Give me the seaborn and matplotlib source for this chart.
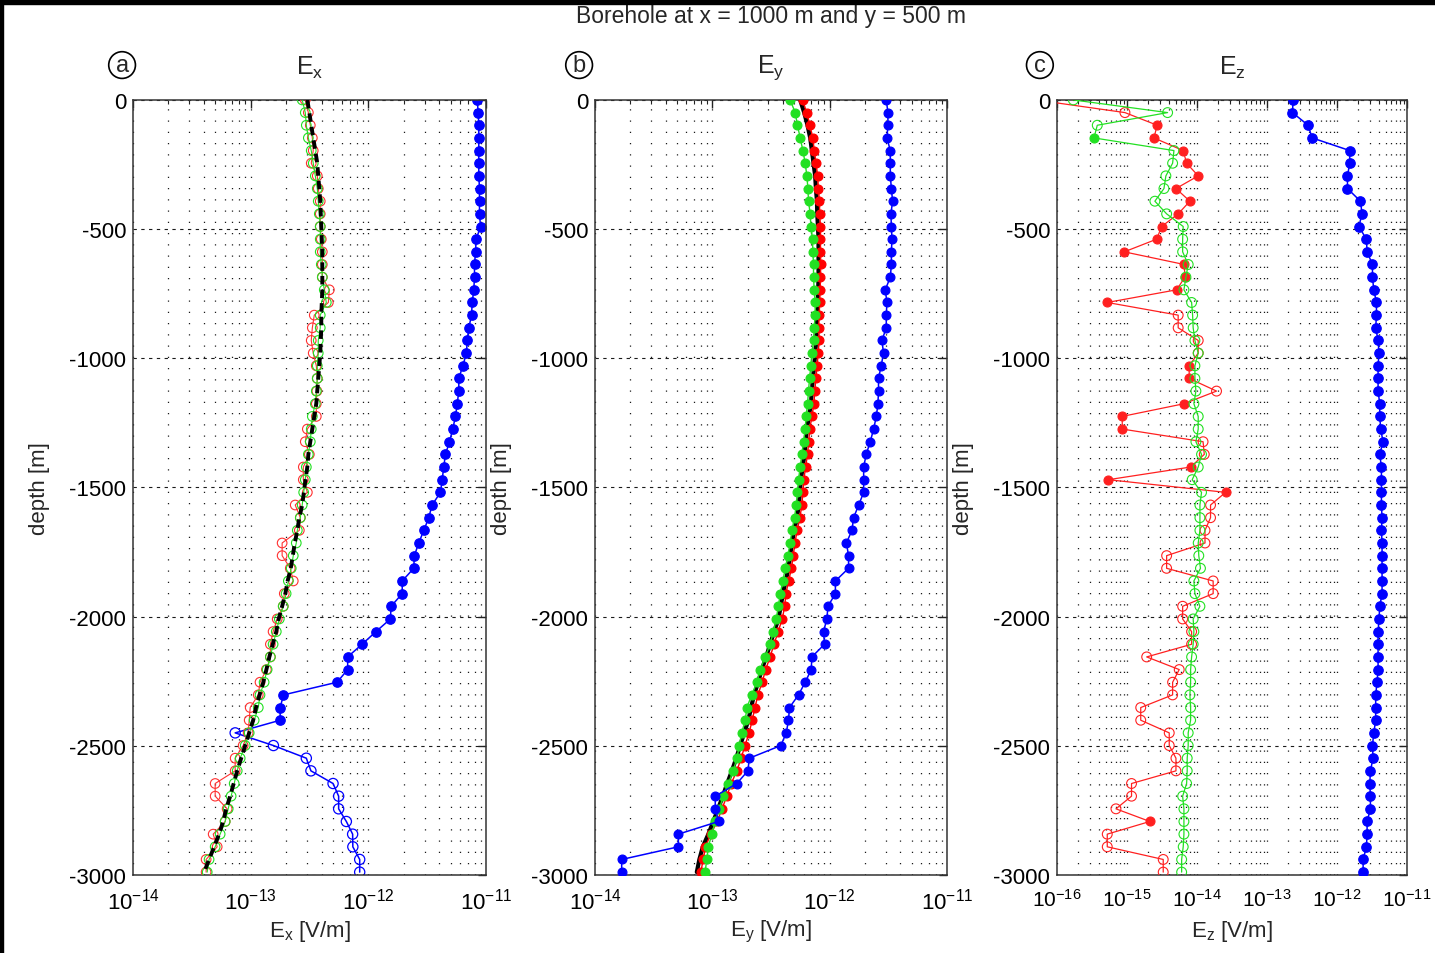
import numpy as np
import matplotlib
matplotlib.use("Agg")
import matplotlib.pyplot as plt
import seaborn as sns
from matplotlib.patches import Rectangle
from matplotlib.ticker import FixedLocator, LogLocator, NullFormatter

# borehole samples (62 points, ~49 m apart)
N_SAMPLES = 62
DEPTH_STEP = 49.0
depth = -DEPTH_STEP * np.arange(N_SAMPLES)

y_ticks = [0, -500, -1000, -1500, -2000, -2500, -3000]

# sign convention: positive -> filled marker, negative -> open marker (|E| is plotted)
ex_black = np.array([
    3.03, 3.15, 3.27, 3.40, 3.54, 3.68, 3.75, 3.83, 3.90, 3.94,
    3.98, 4.02, 4.06, 4.06, 4.06, 4.06, 4.02, 3.98, 3.98, 3.94,
    3.90, 3.83, 3.75, 3.68, 3.61, 3.47, 3.34, 3.21, 3.09, 3.03,
    2.92, 2.83, 2.74, 2.59, 2.49, 2.37, 2.28, 2.19, 2.06, 1.97,
    1.85, 1.73, 1.65, 1.54, 1.44, 1.36, 1.28, 1.19, 1.11, 1.05,
    0.971, 0.898, 0.830, 0.768, 0.717, 0.669, 0.619, 0.583, 0.539, 0.489,
    0.443, 0.402]) * 1e-13
ex_green = -np.array([
    2.74, 2.91, 2.97, 3.09, 3.27, 3.40, 3.54, 3.68, 3.75, 3.83,
    3.90, 3.90, 3.90, 3.98, 4.06, 4.22, 4.39, 3.90, 3.90, 3.75,
    3.75, 3.68, 3.68, 3.61, 3.54, 3.34, 3.27, 3.21, 3.09, 2.97,
    2.91, 2.82, 2.74, 2.64, 2.49, 2.44, 2.30, 2.21, 2.09, 2.00,
    1.89, 1.75, 1.65, 1.55, 1.47, 1.38, 1.30, 1.20, 1.16, 1.07,
    0.971, 0.898, 0.814, 0.768, 0.724, 0.682, 0.644, 0.607, 0.550, 0.499,
    0.443, 0.427]) * 1e-13
ex_red = -np.array([
    2.91, 3.09, 3.21, 3.34, 3.40, 3.27, 3.68, 3.75, 3.90, 3.90,
    3.90, 3.98, 4.06, 4.06, 4.06, 4.66, 4.57, 3.47, 3.34, 3.27,
    3.40, 3.61, 3.68, 3.65, 3.61, 3.61, 3.03, 2.91, 3.15, 2.80,
    2.80, 3.03, 2.39, 2.64, 2.59, 1.85, 1.85, 2.17, 2.30, 1.93,
    1.89, 1.68, 1.55, 1.47, 1.47, 1.36, 1.20, 1.16, 0.990, 0.971,
    0.952, 0.863, 0.738, 0.738, 0.499, 0.499, 0.631, 0.607, 0.480, 0.519,
    0.418, 0.418]) * 1e-13
ex_blue = np.array([
    8.41, 8.58, 8.68, 8.68, 8.68, 8.68, 8.68, 8.80, 8.80, 8.80,
    8.98, 8.25, 8.14, 7.98, 7.98, 7.87, 7.63, 7.53, 7.14, 6.92,
    6.82, 6.35, 5.87, 5.87, 5.69, 5.50, 5.21, 4.89, 4.52, 4.37,
    4.24, 4.10, 3.48, 3.26, 2.96, 2.68, 2.46, 2.43, 1.94, 1.94,
    1.56, 1.54, 1.16, 0.884, 0.667, 0.667, 0.542, 0.190, 0.178, 0.178,
    -0.0738, -0.156, -0.297, -0.325, -0.501, -0.559, -0.559, -0.650, -0.735, -0.738,
    -0.844, -0.844]) * 1e-12

ey_black = np.array([
    5.61, 6.07, 6.48, 6.83, 7.06, 7.29, 7.53, 7.64, 7.80, 7.84,
    7.95, 8.04, 8.04, 8.04, 8.04, 7.99, 7.91, 7.84, 7.76, 7.69,
    7.53, 7.39, 7.20, 7.06, 6.92, 6.66, 6.40, 6.25, 6.11, 5.89,
    5.69, 5.58, 5.47, 5.26, 4.99, 4.77, 4.61, 4.46, 4.22, 4.00,
    3.83, 3.66, 3.37, 3.11, 2.88, 2.64, 2.46, 2.27, 2.14, 2.03,
    1.87, 1.73, 1.60, 1.47, 1.34, 1.23, 1.12, 1.02, 0.926, 0.830,
    0.776, 0.738]) * 1e-13
ey_red = np.array([
    5.89, 6.37, 6.80, 7.17, 7.41, 7.65, 7.91, 8.02, 8.19, 8.23,
    8.35, 8.36, 8.36, 8.40, 8.36, 8.31, 8.23, 8.15, 8.07, 8.15,
    7.98, 7.83, 7.63, 7.48, 7.34, 7.06, 6.78, 6.63, 6.48, 6.24,
    6.03, 5.92, 5.80, 5.58, 5.29, 5.06, 4.89, 4.73, 4.47, 4.24,
    4.14, 3.95, 3.64, 3.36, 3.11, 2.85, 2.66, 2.45, 2.31, 2.19,
    2.06, 1.90, 1.76, 1.62, 1.45, 1.33, 1.21, 1.10, 0.972, 0.872,
    0.838, 0.797]) * 1e-13
ey_green = np.array([
    4.61, 5.09, 5.32, 5.61, 5.92, 6.19, 6.40, 6.53, 6.61, 6.83,
    6.92, 7.15, 7.20, 7.29, 7.29, 7.39, 7.53, 7.53, 7.39, 7.29,
    7.06, 6.92, 6.74, 6.61, 6.48, 6.31, 6.19, 5.99, 5.80, 5.61,
    5.43, 5.31, 5.19, 5.02, 4.77, 4.61, 4.41, 4.18, 4.00, 3.79,
    3.66, 3.50, 3.32, 3.11, 2.82, 2.56, 2.40, 2.17, 1.97, 1.91,
    1.78, 1.70, 1.62, 1.51, 1.37, 1.24, 1.15, 1.06, 0.990, 0.926,
    0.898, 0.868]) * 1e-13
ey_blue = np.array([
    3.04, 3.14, 3.14, 3.08, 3.29, 3.29, 3.29, 3.36, 3.44, 3.33,
    3.36, 3.40, 3.36, 3.36, 3.29, 2.98, 3.08, 3.04, 3.04, 2.79,
    2.88, 2.75, 2.61, 2.61, 2.58, 2.50, 2.37, 2.22, 2.05, 1.95,
    1.95, 1.95, 1.77, 1.60, 1.55, 1.39, 1.45, 1.45, 1.12, 1.12,
    0.967, 0.948, 0.887, 0.905, 0.706, 0.697, 0.619, 0.543, 0.455, 0.446,
    0.427, 0.384, 0.207, 0.201, 0.162, 0.106, 0.106, 0.113, 0.0514, 0.0514,
    0.0169, 0.0169]) * 1e-12

ez_red = np.array([
    -5.0e-17, -9.34e-16, 2.70e-15, 2.42e-15, 6.35e-15, 7.10e-15, 1.04e-14, 5.00e-15, 7.91e-15, 5.38e-15,
    3.12e-15, 2.65e-15, 9.13e-16, 6.56e-15, 6.71e-15, 5.11e-15, 5.22e-16, -5.38e-15, -5.38e-15, -1.04e-14,
    -1.04e-14, 7.73e-15, 7.73e-15, -1.90e-14, 6.50e-15, 8.55e-16, 8.55e-16, -1.22e-14, -1.27e-14, 8.10e-15,
    5.40e-16, 2.56e-14, -1.56e-14, -1.56e-14, -1.30e-14, -1.30e-14, -3.68e-15, -3.68e-15, -1.70e-14, -1.70e-14,
    -6.23e-15, -6.23e-15, -8.37e-15, -8.37e-15, -1.91e-15, -5.57e-15, -4.48e-15, -4.48e-15, -1.57e-15, -1.57e-15,
    -4.01e-15, -4.01e-15, -5.00e-15, -5.00e-15, -1.16e-15, -1.16e-15, -6.95e-16, 2.12e-15, -5.22e-16, -5.22e-16,
    -3.29e-15, -3.29e-15])
ez_green = np.array([
    -1.71e-16, -3.80e-15, -3.76e-16, 3.37e-16, -4.68e-15, -4.48e-15, -3.59e-15, -3.37e-15, -2.50e-15, -3.68e-15,
    -6.35e-15, -6.23e-15, -6.23e-15, -7.48e-15, -6.94e-15, -6.50e-15, -8.37e-15, -8.65e-15, -8.81e-15, -9.33e-15,
    -1.04e-14, -9.33e-15, -9.33e-15, -9.64e-15, -9.02e-15, -1.04e-14, -1.04e-14, -9.64e-15, -1.16e-14, -1.04e-14,
    -8.53e-15, -1.16e-14, -1.10e-14, -1.10e-14, -1.10e-14, -1.04e-14, -1.06e-14, -1.12e-14, -9.02e-15, -9.33e-15,
    -1.10e-14, -8.81e-15, -9.02e-15, -8.81e-15, -8.37e-15, -8.10e-15, -8.10e-15, -7.91e-15, -8.10e-15, -8.10e-15,
    -7.48e-15, -7.48e-15, -7.24e-15, -7.24e-15, -7.10e-15, -6.23e-15, -6.50e-15, -6.50e-15, -6.50e-15, -6.35e-15,
    -6.03e-15, -6.03e-15])
ez_blue = np.array([
    0.236, 0.231, 0.386, 0.441, 1.52, 1.52, 1.41, 1.41, 2.16, 2.28,
    2.05, 2.63, 2.69, 3.21, 3.21, 3.35, 3.66, 3.66, 3.57, 3.86,
    3.98, 3.86, 3.86, 3.86, 4.08, 4.08, 4.21, 4.54, 4.08, 4.31,
    4.31, 4.31, 4.31, 4.40, 4.31, 4.40, 4.40, 4.40, 4.40, 4.40,
    4.08, 3.98, 3.86, 3.86, 3.86, 3.86, 3.73, 3.57, 3.57, 3.57,
    3.35, 3.21, 3.27, 3.00, 2.94, 3.00, 3.00, 2.69, 2.69, 2.63,
    2.36, 2.36]) * 1e-12

RED = "#ff0000"
GREEN = "#22e022"
BLUE = "#0000ff"


def draw_curve(ax, values, color, lw=0.9, ls="-", size=40, edge_lw=0.9, markers=True, z=2):
    vals = np.asarray(values, dtype=float)
    mag = np.abs(vals)
    sns.lineplot(x=mag, y=depth, ax=ax, color=color, linewidth=lw, linestyle=ls,
                 sort=False, estimator=None, orient="y", zorder=z)
    if not markers:
        return
    solid = vals > 0
    if solid.any():
        sns.scatterplot(x=mag[solid], y=depth[solid], ax=ax, color=color, edgecolor=color,
                        s=size, linewidth=edge_lw, zorder=z + 0.5)
    if (~solid).any():
        sns.scatterplot(x=mag[~solid], y=depth[~solid], ax=ax, facecolor="none",
                        edgecolor=color, s=size + 8, linewidth=edge_lw, zorder=z + 0.5)


def style_axes(ax, xlim, comp, letter, letter_x, xlabelsize=16):
    ax.set_xlim(*xlim)
    ax.set_ylim(-3000, 0)
    ax.yaxis.set_major_locator(FixedLocator(y_ticks))
    ax.xaxis.set_major_locator(LogLocator(base=10, numticks=12))
    ax.xaxis.set_minor_locator(LogLocator(base=10, subs=np.arange(2, 10), numticks=60))
    ax.xaxis.set_minor_formatter(NullFormatter())
    ax.tick_params(which="both", direction="in", top=True, right=True,
                   labelsize=16, colors="#222222", labelcolor="black")
    ax.tick_params(which="major", length=6, width=1.0)
    ax.tick_params(which="minor", length=3, width=0.8)
    ax.tick_params(axis="x", which="major", pad=9, labelsize=xlabelsize)
    ax.tick_params(axis="y", which="major", pad=5)
    ax.grid(True, which="both", axis="x", color="k", linestyle=(0, (1, 8)), linewidth=0.9)
    ax.grid(True, which="major", axis="y", color="k", linestyle=(0, (3, 4)), linewidth=0.8)
    ax.set_axisbelow(True)
    for sp in ax.spines.values():
        sp.set_visible(True)
        sp.set_color("#333333")
        sp.set_linewidth(1.1)
    ax.set_xlabel(r"$\mathregular{E_%s}$ [V/m]" % comp, fontsize=16)
    ax.set_ylabel("depth [m]", fontsize=16)
    ax.xaxis.set_label_coords(0.5, -0.056)
    ax.yaxis.set_label_coords(-0.236, 0.5)
    ax.text(0.5, 1.043, r"$\mathregular{E_%s}$" % comp, transform=ax.transAxes,
            ha="center", va="center", fontsize=18)
    ax.text(letter_x, 1.045, letter, transform=ax.transAxes, ha="center", va="center",
            fontsize=17, bbox=dict(boxstyle="circle,pad=0.1", fc="white", ec="black", lw=1.2))


def main():
    sns.set_theme(style="white")
    plt.rcParams["font.family"] = ["Liberation Sans", "DejaVu Sans"]
    plt.rcParams["mathtext.fontset"] = "custom"
    plt.rcParams["mathtext.rm"] = "Liberation Sans"
    plt.rcParams["mathtext.it"] = "Liberation Sans:italic"
    plt.rcParams["mathtext.default"] = "regular"
    plt.rcParams["axes.unicode_minus"] = False

    fig = plt.figure(figsize=(14.35, 9.54), dpi=100)
    fig.patch.set_facecolor("white")
    bottom, height = 0.0818, 0.8124
    ax_a = fig.add_axes([0.0927, bottom, 0.2460, height])
    ax_b = fig.add_axes([0.4146, bottom, 0.2453, height])
    ax_c = fig.add_axes([0.7366, bottom, 0.2439, height])
    for ax in (ax_a, ax_b, ax_c):
        ax.set_xscale("log")

    # (a) Ex
    draw_curve(ax_a, ex_blue, BLUE, lw=1.1, size=46, z=2)
    draw_curve(ax_a, ex_red, "#ff3030", lw=0.8, size=40, edge_lw=0.8, z=3)
    draw_curve(ax_a, ex_green, GREEN, lw=0.8, size=40, edge_lw=0.8, z=4)
    draw_curve(ax_a, ex_black, "black", lw=2.8, ls=(0, (2.2, 1.3)), markers=False, z=5)

    # (b) Ey
    draw_curve(ax_b, ey_black, "black", lw=3.0, markers=False, z=2)
    draw_curve(ax_b, ey_red, RED, lw=1.0, size=40, z=3)
    draw_curve(ax_b, ey_green, GREEN, lw=1.0, size=40, z=4)
    draw_curve(ax_b, ey_blue, BLUE, lw=1.1, size=40, z=5)

    # (c) Ez
    draw_curve(ax_c, ez_red, "#ff2020", lw=0.9, size=42, edge_lw=0.8, z=3)
    draw_curve(ax_c, ez_green, GREEN, lw=0.9, size=42, edge_lw=0.8, z=4)
    draw_curve(ax_c, ez_blue, BLUE, lw=1.1, size=46, z=5)

    style_axes(ax_a, (1e-14, 1e-11), "x", "a", -0.031)
    style_axes(ax_b, (1e-14, 1e-11), "y", "b", -0.045)
    style_axes(ax_c, (1e-16, 1e-11), "z", "c", -0.049, xlabelsize=15)

    fig.text(0.5375, 0.983, "Borehole at x = 1000 m and y = 500 m",
             ha="center", va="center", fontsize=16.5)

    # black frame edges of the original screenshot
    fig.patches.append(Rectangle((0, 1 - 5 / 954), 1, 5 / 954, transform=fig.transFigure,
                                 color="black", zorder=10))
    fig.patches.append(Rectangle((0, 0), 3 / 1435, 1, transform=fig.transFigure,
                                 color="black", zorder=10))

    fig.savefig("out.png", dpi=100)
    plt.close(fig)


if __name__ == "__main__":
    main()
